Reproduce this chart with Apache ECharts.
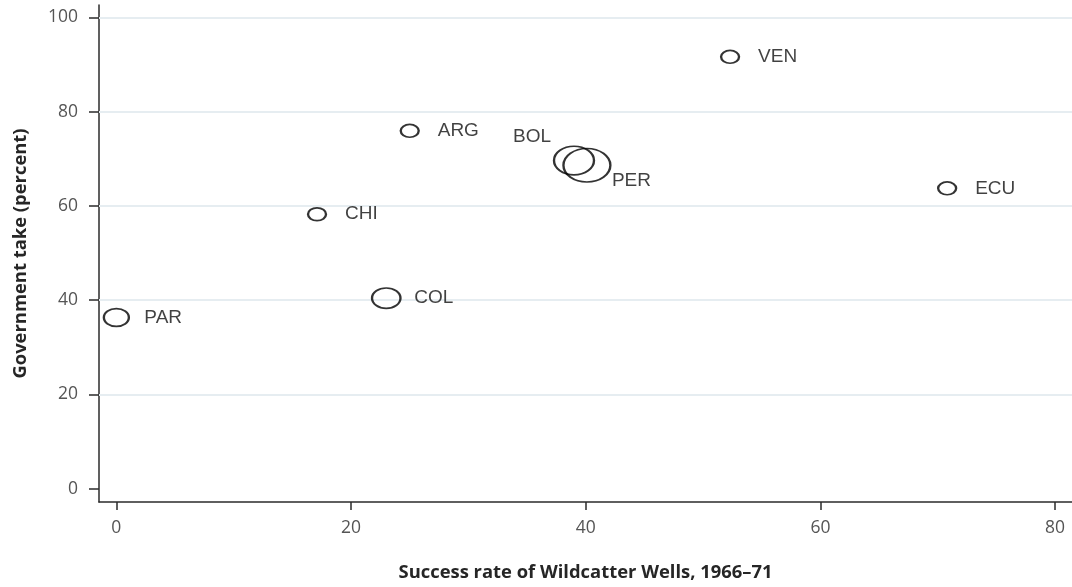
<!DOCTYPE html>
<html>
<head>
<meta charset="utf-8">
<script src="https://cdn.jsdelivr.net/npm/echarts@6/dist/echarts.min.js"></script>
<style>
html,body{margin:0;padding:0;background:#fff;}
#chart{width:1072px;height:587px;}
</style>
</head>
<body>
<div id="chart"></div>
<script>
// ---- data ----
const countries    = ['PAR', 'CHI', 'COL', 'ARG', 'BOL', 'PER', 'VEN', 'ECU'];
const successRate  = [0.0, 17.1, 23.0, 25.0, 39.0, 40.1, 52.3, 70.8];
const govTake      = [36.3, 58.2, 40.4, 75.9, 69.6, 68.6, 91.6, 63.7];
const bubbleWeight = [1.93, 1, 2.5, 1, 4.94, 6.8, 1, 1];
const xTicks = [0, 20, 40, 60, 80];
const yTicks = [0, 20, 40, 60, 80, 100];
const xTitle = 'Success rate of Wildcatter Wells, 1966–71';
const yTitle = 'Government take (percent)';

// ---- layout / style ----
const labelLayout = {
  BOL: { align: 'right', offset: [-23, -24] },
  PER: { align: 'left', offset: [25, 16] }
};
const defaultLabel = { align: 'left', offset: [28, 0] };
const baseW = 18, aspect = 1.4;

const points = countries.map((name, i) => {
  const lay = labelLayout[name] || defaultLabel;
  return {
    name: name,
    value: [successRate[i], govTake[i], bubbleWeight[i]],
    label: { align: lay.align, offset: lay.offset }
  };
});

const tickFont = { fontFamily: '"Open Sans", sans-serif', fontSize: 17.5, color: '#555' };
const titleFont = { fontFamily: '"Open Sans", sans-serif', fontSize: 18.4, fontWeight: 'bold', color: '#262626' };
const axisColor = '#2b2b2b';

const chart = echarts.init(document.getElementById('chart'), null, { renderer: 'canvas' });
chart.setOption({
  animation: false,
  backgroundColor: '#fff',
  grid: { left: 99, right: 0, top: 5, bottom: 85, containLabel: false, outerBoundsMode: 'none' },
  xAxis: {
    type: 'value',
    min: -1.48, max: 81.44,
    name: xTitle, nameLocation: 'middle', nameGap: 62,
    nameTextStyle: titleFont,
    axisLine: { show: true, onZero: false, lineStyle: { color: axisColor, width: 1.5 } },
    axisTick: { show: true, length: 8, customValues: xTicks, lineStyle: { color: axisColor, width: 1.5 } },
    axisLabel: Object.assign({ margin: 17, customValues: xTicks }, tickFont),
    splitLine: { show: false }
  },
  yAxis: {
    type: 'value',
    min: -2.85, max: 102.6,
    name: yTitle, nameLocation: 'middle', nameGap: 69, nameRotate: 90,
    nameTextStyle: titleFont,
    axisLine: { show: true, onZero: false, lineStyle: { color: axisColor, width: 1.5 } },
    axisTick: { show: true, length: 10, customValues: yTicks, lineStyle: { color: axisColor, width: 1.5 } },
    axisLabel: Object.assign({ margin: 21, customValues: yTicks }, tickFont),
    splitLine: { show: false }
  },
  series: [{
    type: 'scatter',
    data: points,
    symbol: 'circle',
    symbolSize: function (val) {
      const w = baseW * Math.sqrt(val[2]);
      return [w, w / aspect];
    },
    itemStyle: { color: 'rgba(0,0,0,0)', borderColor: '#000', borderWidth: 2 },
    label: {
      show: true,
      position: 'inside',
      verticalAlign: 'middle',
      formatter: '{b}',
      fontFamily: '"Liberation Sans", Arial, sans-serif',
      fontSize: 19,
      color: '#111'
    },
    emphasis: { disabled: true },
    markLine: {
      silent: true,
      symbol: 'none',
      animation: false,
      z: 1,
      label: { show: false },
      lineStyle: { color: '#e6edf1', width: 2, type: 'solid' },
      data: yTicks.filter(v => v > 0).map(v => ({ yAxis: v }))
    },
    z: 3
  }]
});
</script>
</body>
</html>
